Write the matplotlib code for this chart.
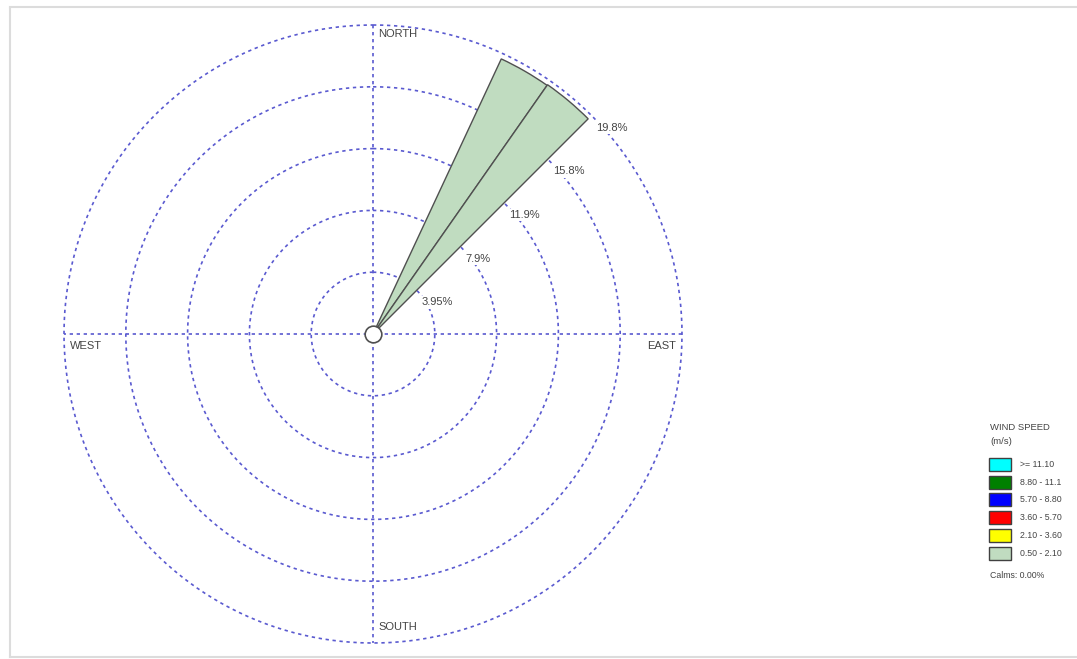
import numpy as np
import matplotlib
matplotlib.use("Agg")
import matplotlib.pyplot as plt
from matplotlib.patches import Rectangle
from matplotlib.lines import Line2D

# wind rose data (only the 0.50 - 2.10 class is present)
directions = [30, 40]          # bin centres, degrees from north
bin_width = 10
freq_050_210 = [19.4, 19.45]   # percent

ring_values = [3.95, 7.9, 11.85, 15.8, 19.75]
ring_labels = ["3.95%", "7.9%", "11.9%", "15.8%", "19.8%"]

speed_labels = [">= 11.10", "8.80 - 11.1", "5.70 - 8.80", "3.60 - 5.70", "2.10 - 3.60", "0.50 - 2.10"]
speed_colors = ["#00ffff", "#008000", "#0000ff", "#ff0000", "#ffff00", "#c0dcc0"]
calms = "Calms: 0.00%"

W, H = 1077, 659
fig = plt.figure(figsize=(W / 100, H / 100), dpi=100)
plt.rcParams['font.family'] = ['Liberation Sans', 'DejaVu Sans']

cx, cy, R = 373, 334, 309
ax = fig.add_axes([(cx - R) / W, (H - cy - R) / H, 2 * R / W, 2 * R / H], projection='polar')
ax.set_theta_zero_location('N')
ax.set_theta_direction(-1)
rmax = ring_values[-1]
ax.set_ylim(0, rmax)
ax.grid(False)
ax.set_xticks([])
ax.set_yticks([])
ax.spines['polar'].set_visible(False)
ax.patch.set_alpha(0)

grid_col = '#5a5ad0'
dots = (0, (2, 2.2))
t = np.linspace(0, 2 * np.pi, 400)
for r in ring_values:
    ax.plot(t, np.full_like(t, r), ls=dots, color=grid_col, lw=1.2, zorder=1, clip_on=False)
for ang in [0, 90]:
    a = np.deg2rad(ang)
    ax.plot([a, 0, a + np.pi], [rmax, 0, rmax], ls=dots, color=grid_col, lw=1.2, zorder=1, clip_on=False)

# petals
ax.bar(np.deg2rad(directions), freq_050_210, width=np.deg2rad(bin_width), bottom=0,
       color=speed_colors[-1], edgecolor='#505050', linewidth=1.0, zorder=3)

# centre circle
ax.plot([0], [0], 'o', ms=12, mfc='white', mec='#505050', mew=1.2, zorder=5)

# ring labels along 45 degrees
for r, lab in zip(ring_values, ring_labels):
    ax.annotate(lab, xy=(np.deg2rad(45), r), xytext=(5, -12), textcoords='offset pixels',
                ha='left', va='center', fontsize=8, color='#444444', zorder=6,
                bbox=dict(facecolor='white', edgecolor='none', pad=1))

# compass labels
lab_kw = dict(textcoords='offset pixels', fontsize=8, color='#444444', va='center', zorder=6)
ax.annotate("NORTH", xy=(0, rmax), xytext=(5, -9), ha='left', **lab_kw)
ax.annotate("SOUTH", xy=(np.pi, rmax), xytext=(5, 16), ha='left', **lab_kw)
ax.annotate("WEST", xy=(3 * np.pi / 2, rmax), xytext=(6, -12), ha='left', **lab_kw)
ax.annotate("EAST", xy=(np.pi / 2, rmax), xytext=(-6, -12), ha='right', **lab_kw)

# legend
def fx(px):
    return px / W

def fy(py):
    return 1 - py / H

leg_col = '#444444'
fig.text(fx(990), fy(428), "WIND SPEED", fontsize=6.8, color=leg_col, va='center')
fig.text(fx(990), fy(442), "(m/s)", fontsize=6.8, color=leg_col, va='center')
for i, (lab, col) in enumerate(zip(speed_labels, speed_colors)):
    top = 458 + i * 17.7
    fig.patches.append(Rectangle((fx(989), fy(top + 13)), 22 / W, 13 / H, transform=fig.transFigure,
                                 facecolor=col, edgecolor='#404040', lw=1.0))
    fig.text(fx(1020), fy(top + 6.5), lab, fontsize=6.3, color=leg_col, va='center')
fig.text(fx(990), fy(575), calms, fontsize=6.3, color=leg_col, va='center')

# screenshot frame
for xs, ys in [([10, 10], [8, 657]), ([10, W], [7, 7]), ([10, W], [657, 657])]:
    fig.lines.append(Line2D([fx(x) for x in xs], [fy(y) for y in ys], transform=fig.transFigure,
                            color='#dcdcdc', lw=1.5))

fig.savefig("out.png", dpi=100, facecolor='white')
